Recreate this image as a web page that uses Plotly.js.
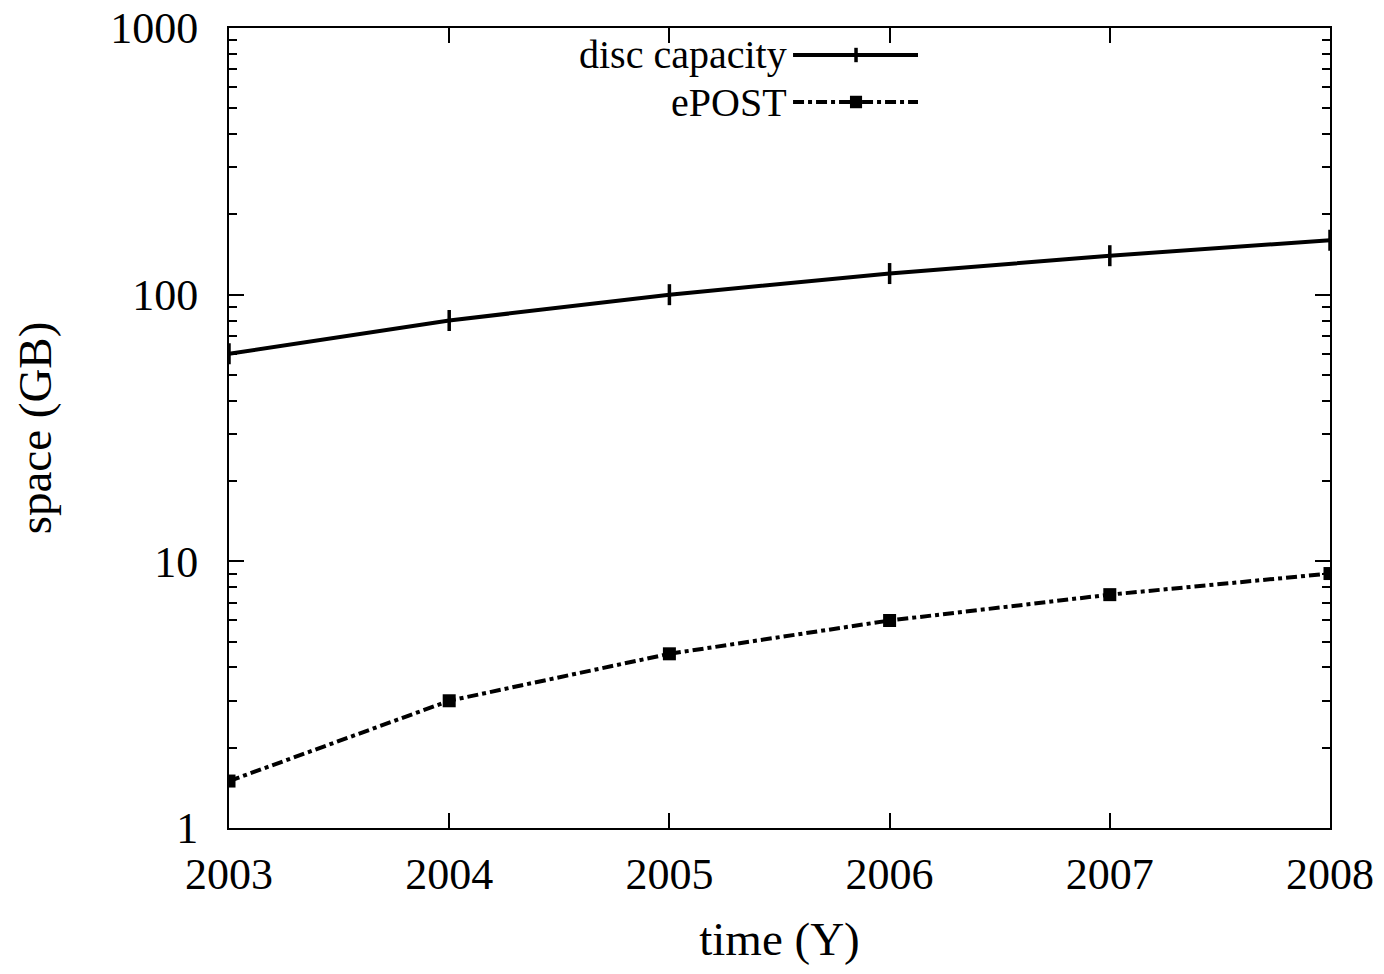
<!DOCTYPE html>
<html>
<head>
<meta charset="utf-8">
<script src="https://cdn.plot.ly/plotly-3.0.1.min.js"></script>
<style>html,body{margin:0;padding:0;background:#fff;}#chart{width:1384px;height:974px;}</style>
</head>
<body>
<div id="chart"></div>
<script>
const years = [2003, 2004, 2005, 2006, 2007, 2008];
const discCapacity = [60, 80, 100, 120, 140, 160];
const ePOST = [1.5, 3, 4.5, 6, 7.5, 9];
const yTickVals = [1, 10, 100, 1000];
const yTickText = ['1', '10', '100', '1000'];
const seriesNames = ['disc capacity', 'ePOST'];

const FONT = 'Liberation Serif, Times New Roman, serif';
const minorVals = [];
[1, 10, 100].forEach(d => { for (let k = 2; k <= 9; k++) minorVals.push(k * d); });
const DASH = '11px,4px,4px,4px';

const traces = [
  {x: years, y: discCapacity, name: seriesNames[0], mode: 'lines+markers',
   line: {color: '#000', width: 4},
   marker: {symbol: 'line-ns', size: 15, color: '#000', line: {color: '#000', width: 3.5}}},
  {x: years, y: ePOST, name: seriesNames[1], mode: 'lines+markers',
   line: {color: '#000', width: 4, dash: DASH},
   marker: {symbol: 'square', size: 13, color: '#000'}}
];

// legend (gnuplot style: text on the left, sample on the right)
const lx0 = 0.5123, lx1 = 0.6258, lxm = 0.5695;
const ly = [0.96625, 0.9075];
const shapes = [
  {type: 'line', xref: 'paper', yref: 'paper', x0: lx0, x1: lx1, y0: ly[0], y1: ly[0], line: {color: '#000', width: 4}},
  {type: 'line', xref: 'paper', yref: 'paper', x0: lxm, x1: lxm, y0: ly[0] - 0.009, y1: ly[0] + 0.009, line: {color: '#000', width: 3.5}},
  {type: 'line', xref: 'paper', yref: 'paper', x0: lx0, x1: lx1, y0: ly[1], y1: ly[1], line: {color: '#000', width: 4, dash: DASH}},
  {type: 'rect', xref: 'paper', yref: 'paper', x0: lxm - 0.0055, x1: lxm + 0.0055, y0: ly[1] - 0.0078, y1: ly[1] + 0.0078, fillcolor: '#000', line: {width: 0}}
];
const annotations = seriesNames.map((n, i) => ({
  xref: 'paper', yref: 'paper', x: lx0 - 0.004, y: ly[i], xanchor: 'right', yanchor: 'middle',
  text: n, showarrow: false, font: {family: FONT, size: 40, color: '#000'}
}));

const layout = {
  width: 1384, height: 974,
  margin: {l: 229, r: 54, t: 28, b: 146},
  paper_bgcolor: '#fff', plot_bgcolor: '#fff',
  showlegend: false,
  font: {family: FONT, color: '#000'},
  xaxis: {
    range: [2003, 2008], tickvals: years, ticktext: years.map(String),
    ticks: 'inside', ticklen: 15, tickwidth: 2, tickcolor: '#000',
    showline: true, linecolor: '#000', linewidth: 2, mirror: 'ticks',
    showgrid: false, zeroline: false, ticklabelstandoff: 6,
    tickfont: {family: FONT, size: 44, color: '#000'},
    title: {text: 'time (Y)', font: {family: FONT, size: 47, color: '#000'}, standoff: 24}
  },
  yaxis: {
    type: 'log', range: [0, 3], tickvals: yTickVals, ticktext: yTickText,
    ticks: 'inside', ticklen: 15, tickwidth: 2, tickcolor: '#000',
    showline: true, linecolor: '#000', linewidth: 2, mirror: 'ticks',
    showgrid: false, zeroline: false, ticklabelstandoff: 20,
    tickfont: {family: FONT, size: 44, color: '#000'},
    minor: {tickvals: minorVals, ticks: 'inside', ticklen: 8, tickwidth: 2, tickcolor: '#000', showgrid: false},
    title: {text: 'space (GB)', font: {family: FONT, size: 47, color: '#000'}, standoff: 44}
  },
  shapes: shapes,
  annotations: annotations
};

Plotly.newPlot('chart', traces, layout, {displayModeBar: false, staticPlot: true});
</script>
</body>
</html>
